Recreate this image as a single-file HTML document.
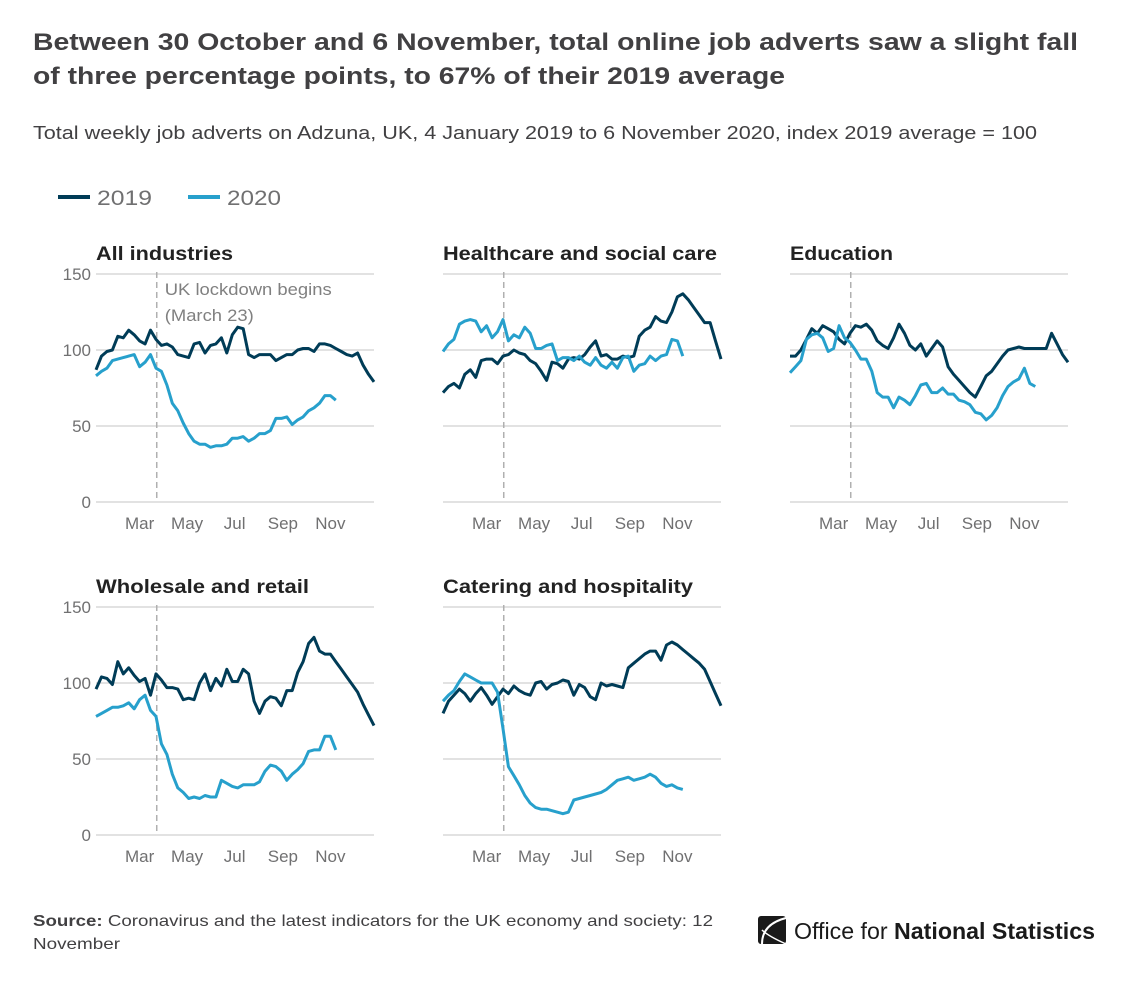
<!DOCTYPE html>
<html><head><meta charset="utf-8">
<style>
html,body{margin:0;padding:0;background:#fff;}
body{width:1122px;height:983px;overflow:hidden;font-family:"Liberation Sans",sans-serif;}
svg text{font-family:"Liberation Sans",sans-serif;}
</style></head>
<body>
<svg id="chart" width="1122" height="983" viewBox="0 0 1122 983">
<text x="33" y="50" font-size="24" font-weight="bold" fill="#414042" textLength="1045" lengthAdjust="spacingAndGlyphs">Between 30 October and 6 November, total online job adverts saw a slight fall</text>
<text x="33" y="84" font-size="24" font-weight="bold" fill="#414042" textLength="752" lengthAdjust="spacingAndGlyphs">of three percentage points, to 67% of their 2019 average</text>
<text x="33" y="139" font-size="18.5" fill="#414042" textLength="1004" lengthAdjust="spacingAndGlyphs">Total weekly job adverts on Adzuna, UK, 4 January 2019 to 6 November 2020, index 2019 average = 100</text>
<g>
<line x1="58" y1="197" x2="90" y2="197" stroke="#003c57" stroke-width="4"/>
<text x="97" y="205" font-size="21" fill="#707071" textLength="55" lengthAdjust="spacingAndGlyphs">2019</text>
<line x1="188" y1="197" x2="220" y2="197" stroke="#27a0cc" stroke-width="4"/>
<text x="227" y="205" font-size="21" fill="#707071" textLength="54" lengthAdjust="spacingAndGlyphs">2020</text>
</g>
<g id="panels"></g>
<text x="33" y="926" font-size="16" fill="#414042" textLength="680" lengthAdjust="spacingAndGlyphs"><tspan font-weight="bold">Source:</tspan> Coronavirus and the latest indicators for the UK economy and society: 12</text>
<text x="33" y="949" font-size="16" fill="#414042" textLength="87" lengthAdjust="spacingAndGlyphs">November</text>
<g>
<rect x="758" y="916" width="28" height="28" rx="3" fill="#1a1a1a"/>
<path d="M786 918 Q762 924 762 944" stroke="#fff" stroke-width="2" fill="none"/>
<path d="M786 944 Q768 936 762 930" stroke="#fff" stroke-width="1.5" fill="none"/>
<text x="794" y="939" font-size="23" fill="#1a1a1a" textLength="301" lengthAdjust="spacingAndGlyphs">Office for <tspan font-weight="bold">National Statistics</tspan></text>
</g>
</svg>
<script>
const panelTitles = ["All industries","Healthcare and social care","Education","Wholesale and retail","Catering and hospitality"];
const monthLabels = ["Mar","May","Jul","Sep","Nov"];
const monthDays = [59,120,181,243,304];
const yTicks = [0,50,100,150];
const lockdownDay = 81;
const s2019_all = [87,96,99,100,109,108,113,110,106,104,113,107,103,104,102,97,96,95,104,105,98,103,104,108,98,110,115,114,97,95,97,97,97,93,95,97,97,100,101,101,99,104,104,103,101,99,97,96,98,90,84,79];
const s2020_all = [83,86,88,93,94,95,96,97,89,92,97,88,86,77,65,60,52,45,40,38,38,36,37,37,38,42,42,43,40,42,45,45,47,55,55,56,51,54,56,60,62,65,70,70,67];
const s2019_health = [72,76,78,75,84,87,82,93,94,94,91,96,97,100,98,97,93,91,86,80,92,91,88,94,95,94,97,102,106,96,97,94,94,96,95,96,109,113,115,122,119,118,125,135,137,133,128,123,118,118,106,94];
const s2020_health = [99,104,107,117,119,120,119,112,116,108,112,120,106,110,108,115,111,101,101,103,104,93,95,95,93,96,92,90,95,90,88,92,88,95,96,86,90,91,96,93,96,97,107,106,96];
const s2019_edu = [96,96,100,107,114,111,116,114,112,107,104,111,116,115,117,113,106,103,101,108,117,111,103,100,104,96,101,106,102,89,84,80,76,72,69,76,83,86,91,96,100,101,102,101,101,101,101,101,111,104,97,92];
const s2020_edu = [85,89,93,107,110,111,108,99,101,116,108,105,100,94,94,86,72,69,69,62,69,67,64,70,77,78,72,72,75,71,71,67,66,64,59,58,54,57,62,70,76,79,81,88,78,76];
const s2019_retail = [96,104,103,99,114,106,110,105,101,103,92,106,102,97,97,96,89,90,89,100,106,95,103,98,109,101,101,109,106,88,80,88,91,90,85,95,95,107,114,126,130,121,119,119,114,109,104,99,94,86,79,72];
const s2020_retail = [78,80,82,84,84,85,87,83,89,92,82,78,60,53,40,31,28,24,25,24,26,25,25,36,34,32,31,33,33,33,35,42,46,45,42,36,40,43,47,55,56,56,65,65,56];
const s2019_cater = [80,88,92,96,93,88,93,97,92,86,91,96,93,98,95,93,92,100,101,96,99,100,102,101,92,99,97,91,89,100,98,99,98,97,110,113,116,119,121,121,115,125,127,125,122,119,116,113,109,101,93,85];
const s2020_cater = [88,92,95,101,106,104,102,100,100,100,94,70,45,39,33,26,21,18,17,17,16,15,14,15,23,24,25,26,27,28,30,33,36,37,38,36,37,38,40,38,34,32,33,31,30];

const series2019 = [s2019_all,s2019_health,s2019_edu,s2019_retail,s2019_cater];
const series2020 = [s2020_all,s2020_health,s2020_edu,s2020_retail,s2020_cater];
const titleWidths = [137,274,103,213,250];

const NS = "http://www.w3.org/2000/svg";
const root = document.getElementById("panels");
const layout = [[96,274],[443,274],[790,274],[96,607],[443,607]];
const PW = 278, PH = 228;
function mk(tag, attrs, parent){
  const e = document.createElementNS(NS, tag);
  for (const k in attrs) e.setAttribute(k, attrs[k]);
  parent.appendChild(e);
  return e;
}
panelTitles.forEach((title, p) => {
  const [x0, yTop] = layout[p];
  const g = mk("g", {}, root);
  
  
  const xw = i => x0 + i * PW / 51;
  const xd = d => x0 + (d - 3) / 7 * PW / 51;
  const y = v => yTop + PH - v / 150 * PH;
  yTicks.forEach(t => {
    const l = mk("line", {x1: x0, x2: x0 + PW, y1: y(t), y2: y(t), stroke: "#d0d0d0", "stroke-width": 1.3}, g);
    
    
    if (p === 0 || p === 3) {
      const tx = mk("text", {x: x0 - 5, y: y(t) + 6, "text-anchor": "end", "font-size": 17, fill: "#707071"}, g);
      tx.textContent = t;
      
      
    }
  });
  monthLabels.forEach((m, i) => {
    const tx = mk("text", {x: xd(monthDays[i]), y: yTop + PH + 27, "text-anchor": "middle", "font-size": 17, fill: "#707071"}, g);
    tx.textContent = m;
    
    
  });
  const lx = xd(lockdownDay);
  const ll = mk("line", {x1: lx, x2: lx, y1: yTop - 2, y2: yTop + PH, stroke: "#b0b0b0", "stroke-width": 1.5, "stroke-dasharray": "6,4"}, g);
  
  
  if (p === 0) {
    const a = mk("text", {x: lx + 8, y: yTop + 21, "font-size": 16.5, fill: "#808080", textLength: 167, lengthAdjust: "spacingAndGlyphs"}, g);
    a.textContent = "UK lockdown begins";
    
    
    const b = mk("text", {x: lx + 8, y: yTop + 47, "font-size": 16.5, fill: "#808080", textLength: 89, lengthAdjust: "spacingAndGlyphs"}, g);
    b.textContent = "(March 23)";
    
    
  }
  const tt = mk("text", {x: x0, y: yTop - 14, "font-size": 19, "font-weight": "bold", fill: "#222", textLength: titleWidths[p], lengthAdjust: "spacingAndGlyphs"}, g);
  tt.textContent = title;
  
  
  [[series2019[p], "#003c57", "2019"], [series2020[p], "#27a0cc", "2020"]].forEach(([arr, col, yr]) => {
    const d = arr.map((v, i) => (i ? "L" : "M") + xw(i).toFixed(1) + " " + y(v).toFixed(1)).join(" ");
    const path = mk("path", {d: d, fill: "none", stroke: col, "stroke-width": 3, "stroke-linejoin": "round"}, g);
    
    
  });
});
</script>
</body></html>
